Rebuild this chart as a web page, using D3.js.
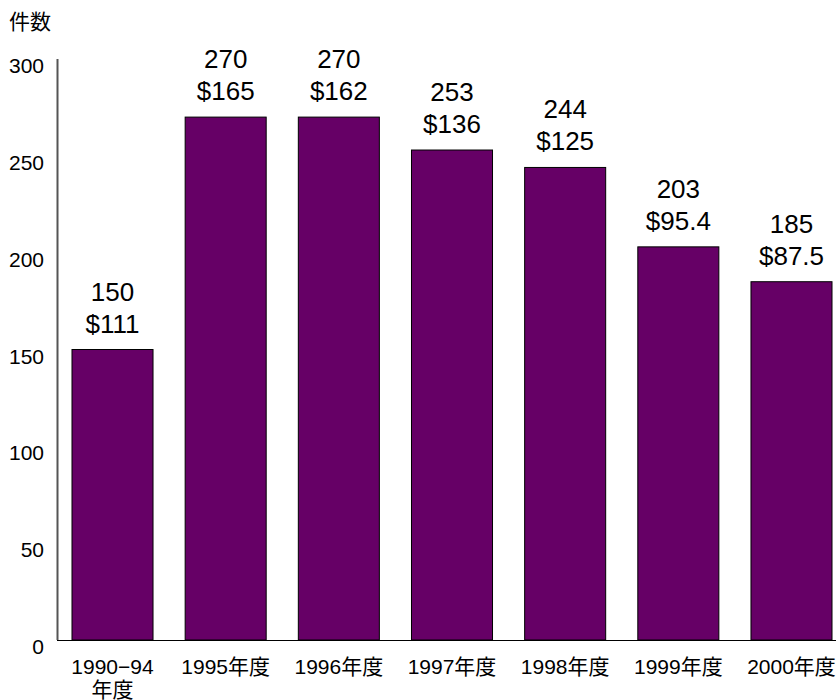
<!DOCTYPE html>
<html>
<head>
<meta charset="utf-8">
<script src="https://cdn.jsdelivr.net/npm/d3@7"></script>
<style>
  body { margin: 0; background: #fff; }
  svg text { font-family: "Liberation Sans", Arial, "Noto Sans CJK JP", sans-serif; fill: #000; }
</style>
</head>
<body>
<script>
// データ
const categories = ['1990−94\n年度', '1995年度', '1996年度', '1997年度', '1998年度', '1999年度', '2000年度'];
const counts = [150, 270, 270, 253, 244, 203, 185];
const amounts = ['$111', '$165', '$162', '$136', '$125', '$95.4', '$87.5'];
const yTicks = [0, 50, 100, 150, 200, 250, 300];
const yTitle = '件数';

const width = 836;
const height = 700;

const svg = d3.select('body').append('svg')
    .attr('width', width)
    .attr('height', height);

const x = d3.scaleBand()
    .domain(categories)
    .range([57, 847])
    .paddingInner(0.284)
    .paddingOuter(0.1325);

const y = d3.scaleLinear()
    .domain([0, 300])
    .range([640, 59]);

// 軸タイトル
svg.append('text')
    .attr('x', 9)
    .attr('y', 29)
    .style('font-size', '21px')
    .text(yTitle);

// 目盛りラベル (目盛り線なし)
svg.append('g')
    .selectAll('text')
    .data(yTicks)
    .enter()
    .append('text')
    .attr('x', 44)
    .attr('y', d => y(d) + 14)
    .attr('text-anchor', 'end')
    .style('font-size', '21px')
    .text(d => d);

// 棒
svg.append('g')
    .selectAll('rect')
    .data(counts)
    .enter()
    .append('rect')
    .attr('x', (d, i) => x(categories[i]))
    .attr('y', d => y(d))
    .attr('width', x.bandwidth())
    .attr('height', d => y(0) - y(d))
    .attr('fill', '#660066')
    .attr('stroke', '#000')
    .attr('stroke-width', 1);

// 値ラベル
const labels = svg.append('g')
    .selectAll('g')
    .data(counts)
    .enter()
    .append('g')
    .attr('transform', (d, i) => `translate(${x(categories[i]) + x.bandwidth() / 2}, ${y(d)})`);

labels.append('text')
    .attr('y', -49)
    .attr('text-anchor', 'middle')
    .style('font-size', '26px')
    .text(d => d);

labels.append('text')
    .attr('y', -17)
    .attr('text-anchor', 'middle')
    .style('font-size', '26px')
    .text((d, i) => amounts[i]);

// 縦軸線
svg.append('line')
    .attr('x1', 57.5).attr('x2', 57.5)
    .attr('y1', 59).attr('y2', y(0))
    .attr('stroke', '#555')
    .attr('stroke-width', 2);

// 横軸線
svg.append('line')
    .attr('x1', 57).attr('x2', width)
    .attr('y1', y(0) + 0.5).attr('y2', y(0) + 0.5)
    .attr('stroke', '#000')
    .attr('stroke-width', 1.2);

// カテゴリラベル
svg.append('g')
    .selectAll('text')
    .data(categories)
    .enter()
    .append('text')
    .attr('y', 674)
    .attr('text-anchor', 'middle')
    .style('font-size', '21px')
    .each(function(d) {
        d.split('\n').forEach((line, i) => {
            d3.select(this).append('tspan')
                .attr('x', x(d) + x.bandwidth() / 2)
                .attr('dy', i === 0 ? 0 : 23)
                .text(line);
        });
    });
</script>
</body>
</html>
